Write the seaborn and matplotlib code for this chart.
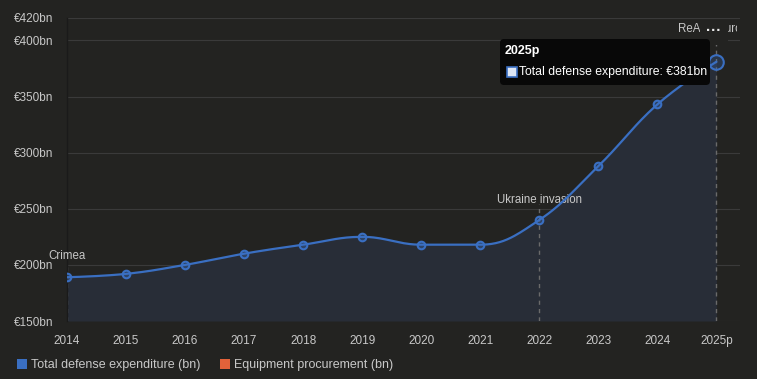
import numpy as np
import pandas as pd
import matplotlib
matplotlib.use("Agg")
import matplotlib.pyplot as plt
import seaborn as sns
from matplotlib.patches import FancyBboxPatch, Rectangle, Patch

# ---- data ----
years = ["2014", "2015", "2016", "2017", "2018", "2019", "2020", "2021", "2022", "2023", "2024", "2025p"]
total_defense = [189, 192, 200, 210, 218, 225, 218, 218, 240, 288, 343, 381]
events = {"2014": "Crimea", "2022": "Ukraine invasion", "2025p": "ReArm Europe"}
y_ticks = [150, 200, 250, 300, 350, 400, 420]
y_labels = ["€150bn", "€200bn", "€250bn", "€300bn", "€350bn", "€400bn", "€420bn"]
legend_names = ["Total defense expenditure (bn)", "Equipment procurement (bn)"]

BG = "#232321"
FILL = "#282d37"
BLUE = "#3a6fc2"
ORANGE = "#e2623a"
TXT = "#c8c8c8"
GRID = "#3a3a3a"

sns.set_theme(style="dark")
plt.rcParams["font.family"] = ["Liberation Sans", "DejaVu Sans"]

df = pd.DataFrame({"x": np.arange(len(years)), "year": years, "value": total_defense})

# Highcharts-style spline rendering between data points
def spline_curve(xs, ys, smoothing=1.5, n=30):
    denom = smoothing + 1
    m = len(xs)
    lc = [(xs[i], ys[i]) for i in range(m)]
    rc = [(xs[i], ys[i]) for i in range(m)]
    for i in range(1, m - 1):
        px, py = xs[i], ys[i]
        lx, ly = xs[i - 1], ys[i - 1]
        nx, ny = xs[i + 1], ys[i + 1]
        lcx = (smoothing * px + lx) / denom
        lcy = (smoothing * py + ly) / denom
        rcx = (smoothing * px + nx) / denom
        rcy = (smoothing * py + ny) / denom
        corr = ((rcy - lcy) * (rcx - px)) / (rcx - lcx) + py - rcy
        lcy += corr
        rcy += corr
        if lcy > ly and lcy > py:
            lcy = max(ly, py); rcy = 2 * py - lcy
        elif lcy < ly and lcy < py:
            lcy = min(ly, py); rcy = 2 * py - lcy
        if rcy > ny and rcy > py:
            rcy = max(ny, py); lcy = 2 * py - rcy
        elif rcy < ny and rcy < py:
            rcy = min(ny, py); lcy = 2 * py - rcy
        lc[i] = (lcx, lcy)
        rc[i] = (rcx, rcy)
    X, Y = [], []
    t = np.linspace(0, 1, n)
    for i in range(1, m):
        p0 = np.array([xs[i - 1], ys[i - 1]])
        p1 = np.array(rc[i - 1])
        p2 = np.array(lc[i])
        p3 = np.array([xs[i], ys[i]])
        seg = ((1 - t) ** 3)[:, None] * p0 + (3 * (1 - t) ** 2 * t)[:, None] * p1 \
            + (3 * (1 - t) * t ** 2)[:, None] * p2 + (t ** 3)[:, None] * p3
        if i > 1:
            seg = seg[1:]
        X.extend(seg[:, 0]); Y.extend(seg[:, 1])
    return np.array(X), np.array(Y)

cx, cy = spline_curve(df["x"].tolist(), df["value"].tolist())
curve = pd.DataFrame({"x": cx, "value": cy})

fig = plt.figure(figsize=(7.57, 3.79), dpi=100, facecolor=BG)
ax = fig.add_axes([67 / 757, 1 - 321 / 379, 673 / 757, 303 / 379])
ax.set_facecolor(BG)

ax.set_ylim(150, 420)
ax.set_xlim(0, 11.4)

for v in y_ticks:
    ax.axhline(v, color=GRID, lw=0.8, zorder=0)

ax.fill_between(curve["x"], 150, curve["value"], color=FILL, zorder=1, lw=0)

# event dashed lines + labels
label_y = {"2014": 208, "2022": 258, "2025p": 410}
line_top = {"2014": 202, "2022": 254, "2025p": 404}
clip_rect = Rectangle((0, 0), 737, 379, transform=None)
for yr, name in events.items():
    xi = years.index(yr)
    ax.plot([xi, xi], [150, line_top[yr]], color="#6a6a6a", lw=1, ls=(0, (3, 3)), zorder=2)
    t = ax.text(xi, label_y[yr], name, color=TXT, fontsize=8.3, ha="center", va="center", zorder=3)
    t.set_clip_on(True)
    t.set_clip_path(clip_rect)

sns.lineplot(data=curve, x="x", y="value", ax=ax, color=BLUE, lw=1.6, zorder=4, sort=False)
sns.scatterplot(data=df.iloc[:-1], x="x", y="value", ax=ax, s=30, facecolor=(0.23, 0.44, 0.76, 0.35),
                edgecolor=BLUE, linewidth=1.5, zorder=5)
sns.scatterplot(data=df.iloc[-1:], x="x", y="value", ax=ax, s=110, facecolor=(0.23, 0.44, 0.76, 0.25),
                edgecolor=BLUE, linewidth=1.5, zorder=5)

ax.set_yticks(y_ticks)
ax.set_yticklabels(y_labels)
ax.set_xticks(df["x"])
ax.set_xticklabels(years)
ax.tick_params(axis="both", colors=TXT, labelsize=8.5, length=0)
ax.tick_params(axis="y", pad=10)
ax.tick_params(axis="x", pad=10)
ax.set_xlabel("")
ax.set_ylabel("")
for s in ["top", "right", "bottom"]:
    ax.spines[s].set_visible(False)
ax.spines["left"].set_color("#1a1a1a")
ax.spines["left"].set_linewidth(1)
ax.grid(False)

# menu button overlay
btn = FancyBboxPatch((700, 379 - 45), 28, 24, boxstyle="round,pad=0,rounding_size=5",
                     transform=None, facecolor=BG, edgecolor="none", zorder=10)
fig.patches.append(btn)
fig.text(714 / 757, 1 - 31 / 379, "···", color="#e8e8e8", fontsize=11, ha="center", va="center",
         fontweight="bold", zorder=11)

# tooltip
tip = FancyBboxPatch((500, 379 - 85), 210, 46, boxstyle="round,pad=0,rounding_size=4",
                     transform=None, facecolor="#080808", edgecolor="none", zorder=10)
fig.patches.append(tip)
fig.text(505 / 757, 1 - 51 / 379, years[-1], color="white", fontsize=9, fontweight="bold",
         ha="left", va="center", zorder=11)
sq = Rectangle((507, 379 - 77), 10, 10, transform=None, facecolor="#dde6f5", edgecolor=BLUE, lw=1.2, zorder=11)
fig.patches.append(sq)
fig.text(519 / 757, 1 - 72 / 379, f"Total defense expenditure: €{total_defense[-1]}bn", color="white",
         fontsize=8.8, ha="left", va="center", zorder=11)

# legend
handles = [Patch(facecolor=BLUE, edgecolor="none"), Patch(facecolor=ORANGE, edgecolor="none")]
leg = fig.legend(handles, legend_names, loc="center left", bbox_to_anchor=(12 / 757, 1 - 365 / 379),
                 ncol=2, frameon=False, fontsize=9, labelcolor=TXT, handlelength=0.8, handleheight=0.8,
                 handletextpad=0.3, columnspacing=1.6, borderaxespad=0)

fig.savefig("out.png", dpi=100, facecolor=BG)
